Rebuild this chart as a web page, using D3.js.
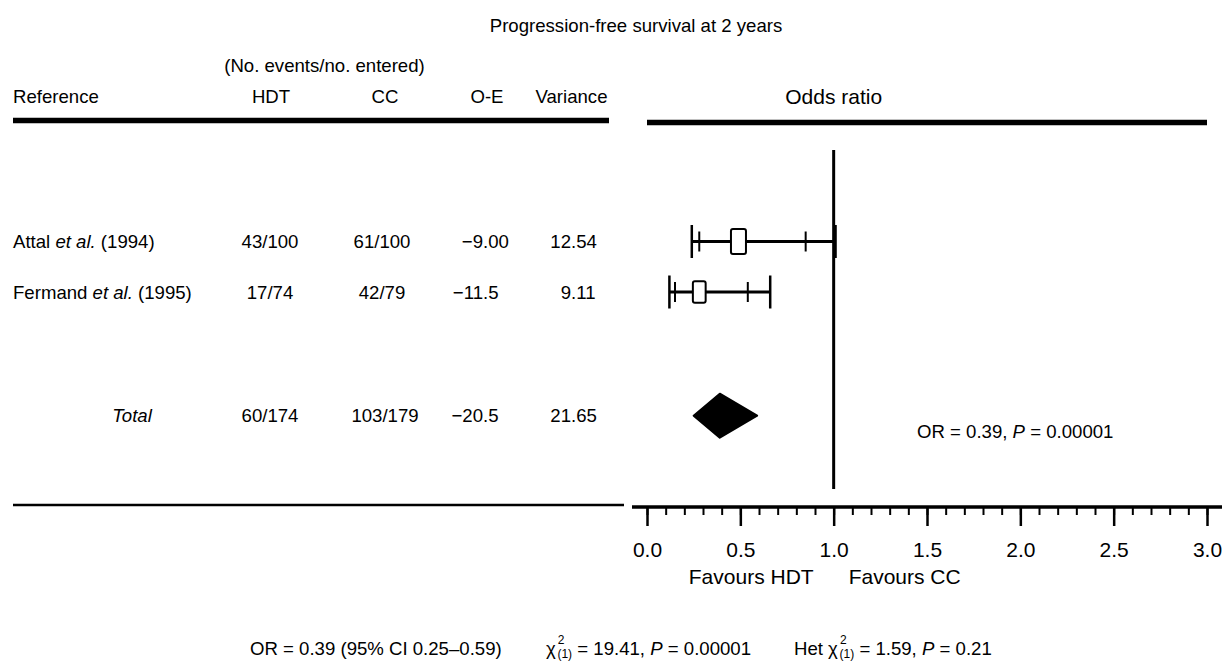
<!DOCTYPE html>
<html lang="en">
<head>
<meta charset="utf-8" />
<title>Progression-free survival at 2 years</title>
<style>
  html,body{margin:0;background:#fff;}
  svg{display:block;font-family:"Liberation Sans",Arial,Helvetica,sans-serif;}
  text{fill:#000;}
</style>
</head>
<body>
<svg id="chart" width="1224" height="664"></svg>
<script src="https://cdn.jsdelivr.net/npm/d3@7"></script>
<script>
// ---- data ----
const studyNames = ["Attal", "Fermand"];
const studyYears = ["(1994)", "(1995)"];
const hdtEvents  = ["43/100", "17/74"];
const ccEvents   = ["61/100", "42/79"];
const oMinusE    = ["\u22129.00", "\u221211.5"];
const variances  = ["12.54", "9.11"];
const oddsRatios = [0.49, 0.28];
const ci95Low    = [0.28, 0.15];
const ci95High   = [0.85, 0.54];
const ci99Low    = [0.24, 0.12];
const ci99High   = [1.01, 0.66];

const totalCells = ["60/174", "103/179", "\u221220.5", "21.65"];
const totalOR    = 0.39;
const totalCI    = [0.25, 0.59];

const majorTicks = [0, 0.5, 1, 1.5, 2, 2.5, 3];
const minorTicks = d3.range(31).map(i => i / 10);

// ---- layout ----
const svg = d3.select('#chart');
const FS = 18.6;   // body text
const FL = 21;     // axis labels / "Odds ratio"
const x = d3.scaleLinear().domain([0, 3]).range([647, 1207]);
const rowY = d3.scaleLinear().domain([0, 1]).range([241.5, 292]);
const TOTAL_SLOT = 3.45;
const boxH = d3.scaleSqrt().domain([0, 12.54]).range([0, 25]);
const col = {name: 13, hdt: 270, cc: 382, oe: 483, vr: 571};

svg.append('rect').attr('width', 1224).attr('height', 664).attr('fill', '#fff');

function txt(xp, yp, s, anchor) {
  return svg.append('text').attr('x', xp).attr('y', yp).attr('dy', '0.35em')
    .attr('font-size', FS).attr('text-anchor', anchor || 'start').text(s);
}
// align numbers on the decimal point
function decimalText(s, xDec, yp) {
  const i = s.indexOf('.');
  txt(xDec, yp, s.slice(0, i), 'end');
  txt(xDec, yp, s.slice(i), 'start');
}
function hline(x1, x2, yp, w) {
  svg.append('line').attr('x1', x1).attr('x2', x2).attr('y1', yp).attr('y2', yp)
    .attr('stroke', '#000').attr('stroke-width', w);
}

// ---- headers ----
txt(636, 25.4, 'Progression-free survival at 2 years', 'middle');
txt(324.5, 65.6, '(No. events/no. entered)', 'middle');
txt(col.name, 96.6, 'Reference');
txt(271, 96.6, 'HDT', 'middle');
txt(385, 96.6, 'CC', 'middle');
txt(487, 96.6, 'O-E', 'middle');
txt(571.5, 96.6, 'Variance', 'middle');
txt(x(1), 96.6, 'Odds ratio', 'middle').attr('font-size', FL);
hline(13, 609, 120.5, 5.5);
hline(x(0), x(3), 122.5, 5.5);

// ---- study rows ----
studyNames.forEach((name, i) => {
  const yp = rowY(i);
  const t = txt(col.name, yp, name + ' ');
  t.append('tspan').attr('font-style', 'italic').text('et al.');
  t.append('tspan').text(' ' + studyYears[i]);
  txt(col.hdt, yp, hdtEvents[i], 'middle');
  txt(col.cc, yp, ccEvents[i], 'middle');
  decimalText(oMinusE[i], col.oe, yp);
  decimalText(variances[i], col.vr, yp);
});

const fp = svg.append('g').attr('stroke', '#000');
// reference line at OR = 1
fp.append('line').attr('x1', x(1)).attr('x2', x(1)).attr('y1', 150).attr('y2', 489)
  .attr('stroke-width', 3);

studyNames.forEach((name, i) => {
  const yp = rowY(i);
  fp.append('line').attr('x1', x(ci99Low[i])).attr('x2', x(ci99High[i]))
    .attr('y1', yp).attr('y2', yp).attr('stroke-width', 3);
  [ci99Low[i], ci99High[i]].forEach(v => {
    fp.append('line').attr('x1', x(v)).attr('x2', x(v))
      .attr('y1', yp - 16.5).attr('y2', yp + 16.5).attr('stroke-width', 2.5);
  });
  [ci95Low[i], ci95High[i]].forEach(v => {
    fp.append('line').attr('x1', x(v)).attr('x2', x(v))
      .attr('y1', yp - 10).attr('y2', yp + 10).attr('stroke-width', 2);
  });
  const h = boxH(+variances[i]), w = h * 0.6;
  fp.append('rect').attr('x', x(oddsRatios[i]) - w / 2).attr('y', yp - h / 2)
    .attr('width', w).attr('height', h).attr('rx', 2)
    .attr('fill', '#fff').attr('stroke-width', 2);
});

// ---- total ----
const ty = rowY(TOTAL_SLOT);
txt(132, ty, 'Total', 'middle').attr('font-style', 'italic');
txt(col.hdt, ty, totalCells[0], 'middle');
txt(col.cc + 3, ty, totalCells[1], 'middle');
decimalText(totalCells[2], col.oe, ty);
decimalText(totalCells[3], col.vr, ty);

fp.append('path')
  .attr('d', `M${x(totalCI[0])},${ty} L${x(totalOR)},${ty - 22} L${x(totalCI[1])},${ty} L${x(totalOR)},${ty + 22} Z`)
  .attr('fill', '#000').attr('stroke-width', 2).attr('stroke-linejoin', 'round');

const orT = txt(917, ty + 16, 'OR = 0.39, ');
orT.append('tspan').attr('font-style', 'italic').text('P');
orT.append('tspan').text(' = 0.00001');

// ---- bottom rules and axis ----
hline(13, 624, 505, 2.5);
const AXIS_Y = 507;
hline(x(0) - 15, x(3) + 15, AXIS_Y, 3.5);

const minorAxis = svg.append('g').attr('transform', `translate(0,${AXIS_Y})`)
  .call(d3.axisBottom(x).tickValues(minorTicks).tickSize(8).tickFormat(''));
const majorAxis = svg.append('g').attr('transform', `translate(0,${AXIS_Y})`)
  .call(d3.axisBottom(x).tickValues(majorTicks).tickSize(19).tickPadding(16).tickFormat(d3.format('.1f')));
[minorAxis, majorAxis].forEach(a => {
  a.attr('font-family', null).attr('font-size', FL);
  a.select('.domain').remove();
  a.selectAll('.tick line').attr('stroke', '#000');
  a.selectAll('.tick text').attr('fill', '#000');
});
minorAxis.selectAll('.tick line').attr('stroke-width', 2);
majorAxis.selectAll('.tick line').attr('stroke-width', 2.5);

txt(x(1) - 20, 577, 'Favours HDT', 'end').attr('font-size', FL);
txt(x(1) + 15, 577, 'Favours CC', 'start').attr('font-size', FL);

// ---- footer statistics ----
const FY = 648;
txt(250, FY, 'OR = 0.39 (95% CI 0.25\u20130.59)');

function chi(xp, prefix, rest) {
  const t = svg.append('text').attr('x', xp).attr('y', FY).attr('dy', '0.35em').attr('font-size', FS);
  t.append('tspan').text(prefix + '\u03c7');
  t.append('tspan').attr('font-size', 12).attr('dx', 2).attr('dy', -11).text('2');
  t.append('tspan').attr('font-size', 12).attr('dx', -7).attr('dy', 14).text('(1)');
  t.append('tspan').attr('dy', -3).text(' = ' + rest[0] + ', ');
  t.append('tspan').attr('font-style', 'italic').text('P');
  t.append('tspan').text(' = ' + rest[1]);
  return t;
}
chi(546, '', ['19.41', '0.00001']);
chi(794, 'Het ', ['1.59', '0.21']);
</script>
</body>
</html>
